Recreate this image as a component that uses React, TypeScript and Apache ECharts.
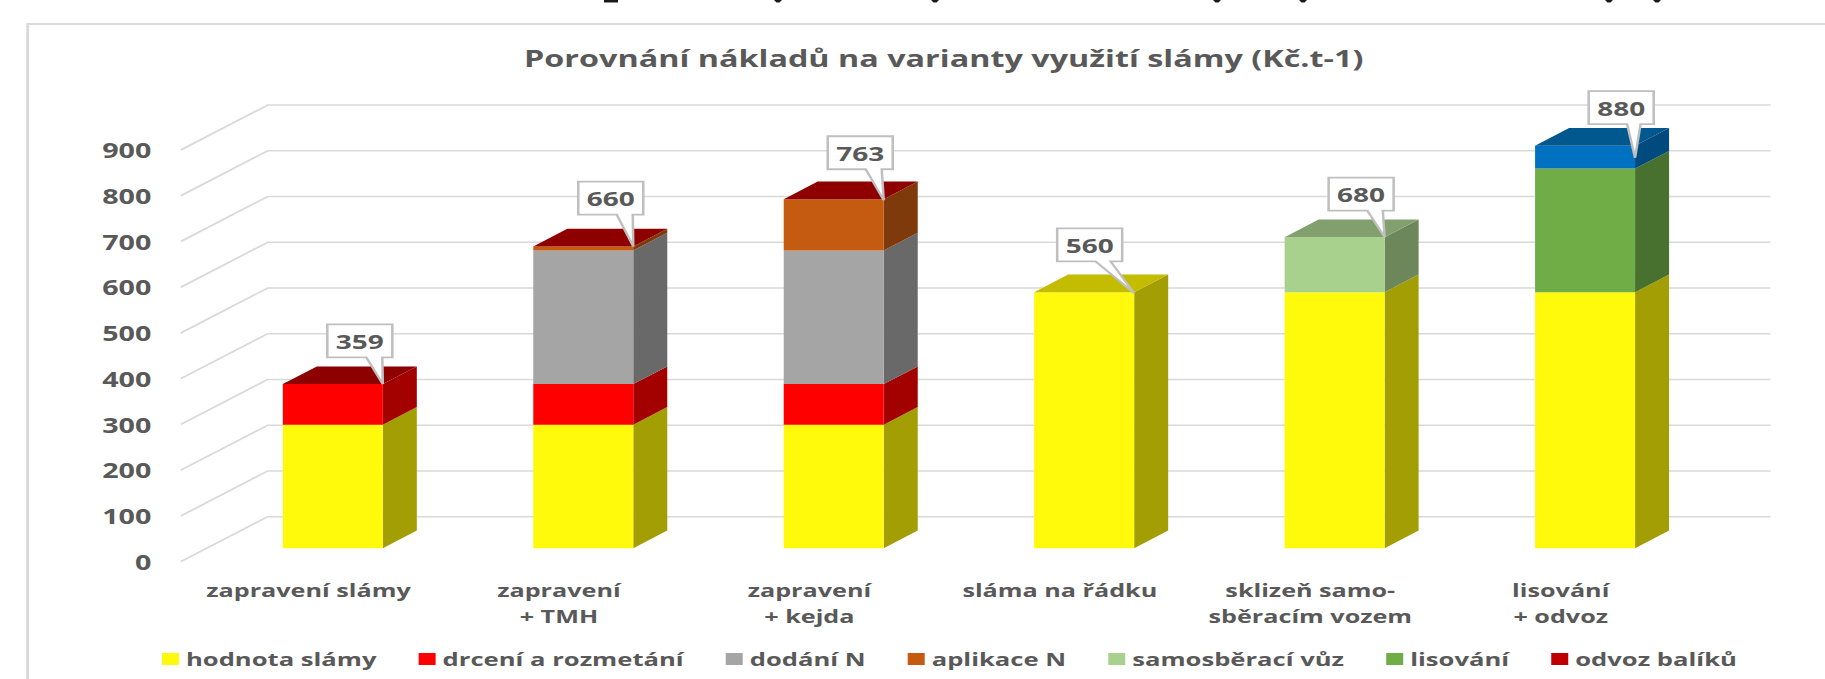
import React, { useEffect, useRef } from "react";
import * as echarts from "echarts";

const titleText = "Porovnání nákladů na varianty využití slámy (Kč.t-1)";
const categories = [
  "zapravení slámy",
  "zapravení\n+ TMH",
  "zapravení\n+ kejda",
  "sláma na řádku",
  "sklizeň samo-\nsběracím vozem",
  "lisování\n+ odvoz",
];
const yTicks = [0, 100, 200, 300, 400, 500, 600, 700, 800, 900];

const hodnotaSlamy = [270, 270, 270, 560, 560, 560];
const drceni = [89, 89, 89, 0, 0, 0];
const dodaniN = [0, 292, 292, 0, 0, 0];
const aplikaceN = [0, 9, 112, 0, 0, 0];
const samosberaci = [0, 0, 0, 0, 120, 0];
const lisovani = [0, 0, 0, 0, 0, 270];
const odvoz = [0, 0, 0, 0, 0, 50];
const totals = [359, 660, 763, 560, 680, 880];

const seriesDefs = [
  { name: "hodnota slámy", values: hodnotaSlamy, front: "#FFF90B", side: "#A39E03" },
  { name: "drcení a rozmetání", values: drceni, front: "#FF0000", side: "#A30000" },
  { name: "dodání N", values: dodaniN, front: "#A5A5A5", side: "#696969" },
  { name: "aplikace N", values: aplikaceN, front: "#C55A11", side: "#7F3A0B" },
  { name: "samosběrací vůz", values: samosberaci, front: "#A9D18E", side: "#6D875B" },
  { name: "lisování", values: lisovani, front: "#70AD47", side: "#48702E" },
  { name: "odvoz balíků", values: odvoz, front: "#0070C0", side: "#004A7D", legend: "#C00000" },
];
const topColors = ["#8E0000", "#8E0000", "#8E0000", "#C4BC00", "#82A06D", "#00588F"];

// Label callout placement relative to the bar's top right corner (page pixels)
const calloutLeft = [-55.5, -55, -56, -77, -56, -46.4];
const calloutTop = [-59.7, -64.7, -63, -63.7, -59.7, -54.6];
const calloutBase = [[-16.5, -0.5], [-16.5, -0.5], [-18, -2], [-38.6, -23.6], [-17.3, -1.8], [-8, 5.5]];
const calloutTipDy = [0, 0, 1, 1, 0, 12];

// Clipped descenders of the text above the chart, at the very top of the picture
const clippedMarksX = [778, 935, 1217, 1303, 1609, 1657];

// The reference is stretched horizontally; draw in a narrower space and stretch with CSS.
const S = 1.4;
const W = 1825;
const H = 679;
const px = (v: number) => v / S;
const GRID_L = 180.8;
const GRID_W = 1502.7;
const GRID_TOP = 150;
const GRID_H = 411.7;
const DEPTH_X = 87;
const DEPTH_Y = -45;
const BAR_DX = 26.8;
const BAR_DY = -13.4;
const BAR_W = 100;
const BAR_DEPTH_X = 34;
const BAR_DEPTH_Y = -17.7;
const FONT = "'Open Sans', sans-serif";
const TEXT = "#595959";

function stackRows(index: number) {
  const rows: number[][] = [];
  categories.forEach((_, c) => {
    let start = 0;
    for (let s = 0; s < index; s++) start += seriesDefs[s].values[c];
    const v = seriesDefs[index].values[c];
    if (v > 0) rows.push([c, start, start + v]);
  });
  return rows;
}

export default function App() {
  const ref = useRef<HTMLDivElement>(null);
  useEffect(() => {
    document.body.style.margin = "0";
    document.body.style.overflow = "hidden";
    const chart = echarts.init(ref.current!, undefined, { renderer: "svg" });

    const gridSeries = {
      type: "custom",
      silent: true,
      z: 1,
      data: yTicks.map((t) => [t]),
      encode: { y: 0 },
      renderItem: (_: any, api: any) => {
        const p = api.coord([0, api.value(0)]);
        const x0 = px(GRID_L);
        const y0 = p[1];
        const dx = px(DEPTH_X);
        return {
          type: "polyline",
          shape: {
            points: [
              [x0, y0],
              [x0 + dx, y0 + DEPTH_Y],
              [x0 + dx + px(GRID_W), y0 + DEPTH_Y],
            ],
          },
          style: { stroke: "#D9D9D9", lineWidth: 1.6, fill: "none" },
        };
      },
    };

    const barSeries = seriesDefs.map((def, idx) => ({
      type: "custom",
      name: def.name,
      z: 2,
      itemStyle: { color: def.legend || def.front },
      data: stackRows(idx),
      encode: { x: 0, y: [1, 2] },
      renderItem: (_: any, api: any) => {
        const c = api.value(0);
        const a = api.coord([c, api.value(1)]);
        const b = api.coord([c, api.value(2)]);
        const l = a[0] + px(BAR_DX - BAR_W / 2);
        const r = l + px(BAR_W);
        const yb = a[1] + BAR_DY;
        const yt = b[1] + BAR_DY;
        const dx = px(BAR_DEPTH_X);
        const dy = BAR_DEPTH_Y;
        const children: any[] = [
          {
            type: "polygon",
            shape: { points: [[r, yb], [r + dx, yb + dy], [r + dx, yt + dy], [r, yt]] },
            style: { fill: def.side },
          },
          {
            type: "polygon",
            shape: { points: [[l, yb], [r, yb], [r, yt], [l, yt]] },
            style: { fill: def.front },
          },
        ];
        if (api.value(2) === totals[c]) {
          children.push({
            type: "polygon",
            shape: { points: [[l, yt], [l + dx, yt + dy], [r + dx, yt + dy], [r, yt]] },
            style: { fill: topColors[c] },
          });
        }
        return { type: "group", children };
      },
    }));

    const calloutSeries = {
      type: "custom",
      silent: true,
      z: 5,
      data: totals.map((t, i) => [i, t]),
      encode: { x: 0, y: 1 },
      renderItem: (_: any, api: any) => {
        const c = api.value(0);
        const v = api.value(1);
        const p = api.coord([c, v]);
        const r = p[0] + px(BAR_DX + BAR_W / 2);
        const t = p[1] + BAR_DY;
        const bx = r + px(calloutLeft[c]);
        const by = t + calloutTop[c];
        const bw = px(65);
        const bh = 33;
        const [b0, b1] = calloutBase[c];
        return {
          type: "group",
          children: [
            {
              type: "polygon",
              shape: {
                points: [
                  [bx, by],
                  [bx + bw, by],
                  [bx + bw, by + bh],
                  [r + px(b1), by + bh],
                  [r, t + calloutTipDy[c]],
                  [r + px(b0), by + bh],
                  [bx, by + bh],
                ],
              },
              style: { fill: "#FFFFFF", stroke: "#BFBFBF", lineWidth: 1.8 },
            },
            {
              type: "text",
              style: {
                x: bx + bw / 2,
                y: by + bh / 2 + 0.5,
                text: String(v),
                align: "center",
                verticalAlign: "middle",
                fontFamily: FONT,
                fontWeight: 700,
                fontSize: 20,
                fill: TEXT,
              },
            },
          ],
        };
      },
    };

    chart.setOption({
      animation: false,
      title: {
        text: titleText,
        left: px(524),
        top: 46,
        padding: 0,
        textStyle: { fontFamily: FONT, fontWeight: 700, fontSize: 23.1, color: TEXT },
      },
      legend: {
        left: px(162),
        top: 650,
        width: W / S,
        padding: 0,
        itemWidth: px(17),
        itemHeight: 12,
        itemGap: px(42.2),
        icon: "rect",
        selectedMode: false,
        textStyle: { fontFamily: FONT, fontWeight: 700, fontSize: 18.3, color: TEXT },
        data: seriesDefs.map((d) => d.name),
      },
      grid: { left: px(GRID_L), width: px(GRID_W), top: GRID_TOP, height: GRID_H, containLabel: false },
      xAxis: {
        type: "category",
        data: categories,
        axisLine: { show: false },
        axisTick: { show: false },
        splitLine: { show: false },
        axisLabel: {
          margin: 15,
          interval: 0,
          lineHeight: 26,
          padding: [0, 0, 0, 3.5],
          fontFamily: FONT,
          fontWeight: 700,
          fontSize: 18,
          color: TEXT,
        },
      },
      yAxis: {
        type: "value",
        min: 0,
        max: 900,
        interval: 100,
        axisLine: { show: false },
        axisTick: { show: false },
        splitLine: { show: false },
        axisLabel: {
          margin: 21,
          fontFamily: FONT,
          fontWeight: 700,
          fontSize: 20.5,
          color: TEXT,
        },
      },
      graphic: [
        {
          type: "polyline",
          silent: true,
          shape: { points: [[px(27.7), H], [px(27.7), 24], [W / S, 24]] },
          style: { stroke: "#D9D9D9", lineWidth: 2, fill: "none" },
        },
        {
          type: "rect",
          silent: true,
          shape: { x: px(604), y: 0, width: px(14), height: 2.5 },
          style: { fill: "#1A1A1A" },
        },
        ...clippedMarksX.map((x) => ({
          type: "polygon",
          silent: true,
          shape: { points: [[px(x - 4), 0], [px(x + 4), 0], [px(x + 1.5), 2.5], [px(x - 1.5), 2.5]] },
          style: { fill: "#1A1A1A" },
        })),
      ],
      series: [gridSeries, ...barSeries, calloutSeries],
    });
    return () => chart.dispose();
  }, []);

  return (
    <div
      ref={ref}
      style={{
        position: "absolute",
        left: 0,
        top: 0,
        width: W / S,
        height: H,
        transform: `scaleX(${S})`,
        transformOrigin: "0 0",
      }}
    />
  );
}
